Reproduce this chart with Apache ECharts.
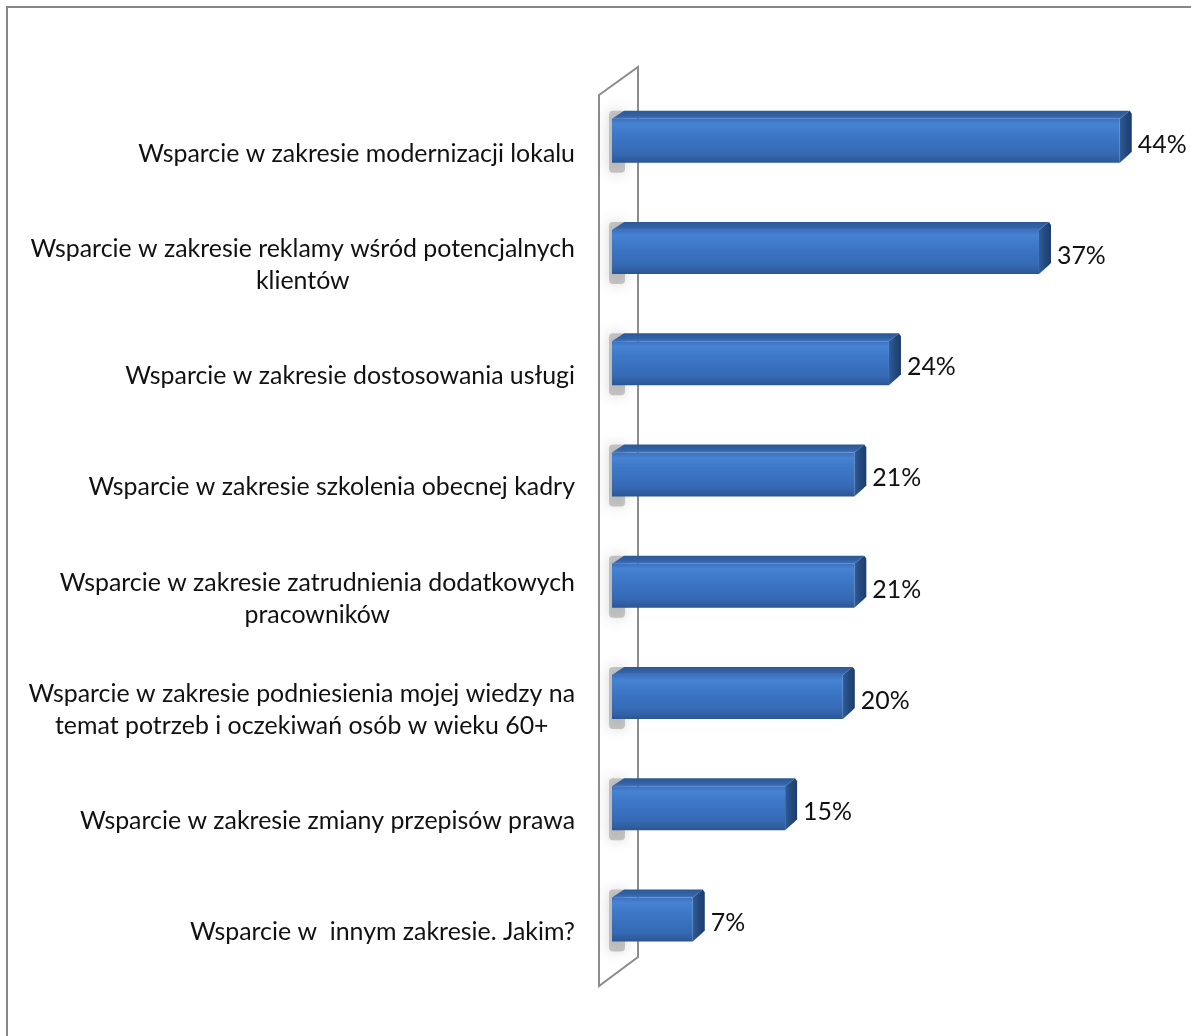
<!DOCTYPE html>
<html>
<head>
<meta charset="utf-8">
<script src="https://cdn.jsdelivr.net/npm/echarts@6/dist/echarts.min.js"></script>
<style>
html,body{margin:0;padding:0;background:#fff;}
#main{width:1191px;height:1036px;}
</style>
</head>
<body>
<div id="main"></div>
<script>
// ---- data ----
const categories = [
  "Wsparcie w zakresie modernizacji lokalu",
  "Wsparcie w zakresie reklamy wśród potencjalnych\nklientów",
  "Wsparcie w zakresie dostosowania usługi",
  "Wsparcie w zakresie szkolenia obecnej kadry",
  "Wsparcie w zakresie zatrudnienia dodatkowych\npracowników",
  "Wsparcie w zakresie podniesienia mojej wiedzy na\ntemat potrzeb i oczekiwań osób w wieku 60+",
  "Wsparcie w zakresie zmiany przepisów prawa",
  "Wsparcie w  innym zakresie. Jakim?"
];
const values = [44, 37, 24, 21, 21, 20, 15, 7];
const valueLabels = ["44%", "37%", "24%", "21%", "21%", "20%", "15%", "7%"];

// ---- font sizing ----
const FONT = "Lato, 'Open Sans', sans-serif";
const cv = document.createElement('canvas').getContext('2d');
cv.font = "100px Lato";
const refW = cv.measureText(categories[0]).width;
const fontSize = Math.round(100 * 437 / refW * 10) / 10;

const chart = echarts.init(document.getElementById('main'), null, {renderer: 'canvas'});

const DX = 12, DY = 8, BAR_H = 44;

const option = {
  backgroundColor: '#ffffff',
  animation: false,
  grid: {left: 612, top: 85, width: 577, height: 890, containLabel: false},
  xAxis: {
    type: 'value', min: 0, max: 50,
    show: false
  },
  yAxis: {
    type: 'category', inverse: true, data: categories,
    axisLine: {show: false}, axisTick: {show: false}, splitLine: {show: false},
    axisLabel: {
      margin: 37,
      align: 'right',
      verticalAlign: 'middle',
      padding: [26, 0, 0, 0],
      formatter: function (val) {
        return val.split('\n').map(l => '{c|' + l + '}').join('\n');
      },
      rich: {
        c: {align: 'center', fontFamily: FONT, fontSize: fontSize, lineHeight: 32, color: '#111111'}
      }
    }
  },
  graphic: [
    {type: 'rect', shape: {x: 7, y: 7, width: 1300, height: 1200}, style: {fill: 'none', stroke: '#878787', lineWidth: 2}, z: -10, silent: true},
    {type: 'polygon', shape: {points: [[599, 95], [638, 67], [638, 957], [599, 986]]},
     style: {fill: 'none', stroke: '#8c8c8c', lineWidth: 2}, z: -5, silent: true}
  ],
  series: [{
    type: 'custom',
    coordinateSystem: 'cartesian2d',
    encode: {x: 0, y: 1},
    data: values.map((v, i) => [v, i]),
    z: 5,
    renderItem: function (params, api) {
      const i = api.value(1);
      const v = api.value(0);
      const p0 = api.coord([0, i]);
      const p1 = api.coord([v, i]);
      const x0 = p0[0], x1 = p1[0], yc = p0[1];
      const yt = yc - BAR_H / 2, yb = yc + BAR_H / 2;
      return {
        type: 'group',
        children: [
          {type: 'rect', shape: {x: x0 - 3, y: yt - 8, width: 16, height: BAR_H + 18, r: 4},
           style: {fill: 'rgba(110,110,110,0.35)', shadowBlur: 14, shadowColor: 'rgba(90,90,90,0.7)'}},
          {type: 'polygon', shape: {points: [[x0, yt], [x0 + DX, yt - DY], [x1 + DX - 2, yt - DY], [x1, yt]]},
           style: {fill: new echarts.graphic.LinearGradient(0, 0, 0, 1, [
             {offset: 0, color: '#2c5893'}, {offset: 0.7, color: '#3364a8'}, {offset: 1, color: '#3f74bf'}])}},
          {type: 'polygon', shape: {points: [[x1, yt], [x1 + DX - 2, yt - DY], [x1 + DX, yt - DY + 3], [x1 + DX, yb - DY - 3], [x1 + DX - 3, yb - DY], [x1, yb]]},
           style: {fill: new echarts.graphic.LinearGradient(0, 0, 1, 0, [
             {offset: 0, color: '#2f5c9a'}, {offset: 0.5, color: '#24497f'}, {offset: 1, color: '#1d3c6b'}])}},
          {type: 'rect', shape: {x: x0, y: yt, width: x1 - x0, height: BAR_H},
           style: {fill: new echarts.graphic.LinearGradient(0, 0, 0, 1, [
             {offset: 0, color: '#3b70bd'},
             {offset: 0.12, color: '#4683d2'},
             {offset: 0.35, color: '#3d78c8'},
             {offset: 0.8, color: '#3669b3'},
             {offset: 1, color: '#2b5694'}])}},
          {type: 'text', x: x1 + 18, y: yc + 4,
           style: {text: valueLabels[i], fontFamily: FONT, fontSize: fontSize, fill: '#111111',
                   align: 'left', verticalAlign: 'middle'}}
        ]
      };
    }
  }]
};
chart.setOption(option);
</script>
</body>
</html>
